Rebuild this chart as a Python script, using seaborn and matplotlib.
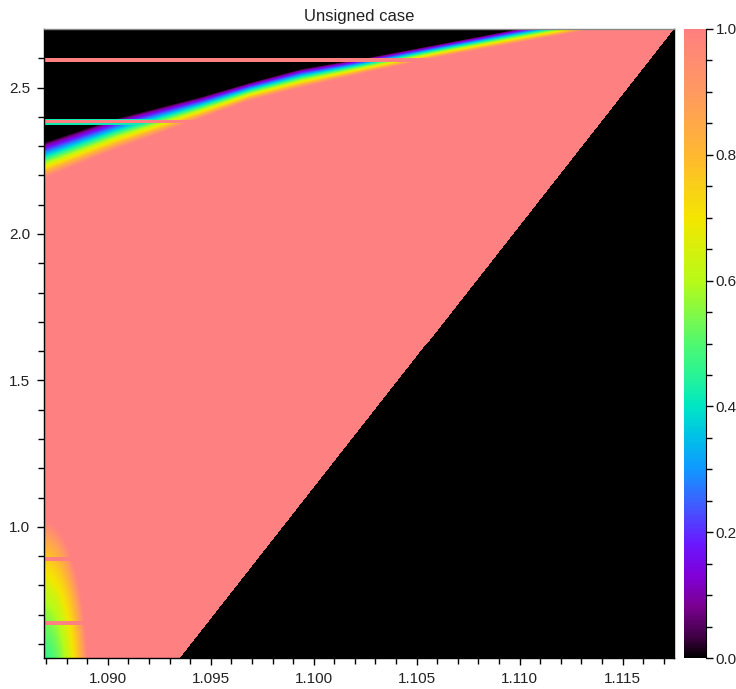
import numpy as np
import matplotlib
matplotlib.use("Agg")
import matplotlib.pyplot as plt
import seaborn as sns
from matplotlib.colors import LinearSegmentedColormap

# extent of the map (data units)
x_lim = [1.0869, 1.1175]
y_lim = [0.552, 2.700]

# upper rainbow band: black edge (value 0) and salmon edge (value 1)
band_x      = [1.0869, 1.0904, 1.0945, 1.0969, 1.0994, 1.1026, 1.1060, 1.1097, 1.1175]
band_top    = [2.313, 2.395, 2.468, 2.517, 2.564, 2.602, 2.647, 2.697, 2.790]
band_bottom = [2.191, 2.290, 2.395, 2.456, 2.500, 2.552, 2.603, 2.650, 2.750]

# lower-left patch: elliptic radius -> value
blob_center = [1.0869, 0.45]
blob_axes = [0.00215, 0.57]
blob_r = [0.0, 0.2, 0.4, 0.6, 0.8, 0.9, 1.0]
blob_v = [0.44, 0.47, 0.54, 0.64, 0.78, 0.88, 1.0]

# black wedge on the right: its edge line
wedge_x = [1.0935, 1.1175]
wedge_y = [0.552, 2.700]

# horizontal stripes
stripe_lo = [0.663, 0.882, 2.379, 2.587]
stripe_hi = [0.677, 0.896, 2.389, 2.601]
stripe_v  = [1.0, 1.0, 1.0, 1.0]
rim_lo = [2.3735, 2.389]
rim_hi = [2.379, 2.3945]
rim_v  = [0.42, 0.42]

# colour table
cmap_pos = [0.0, 0.03, 0.08, 0.13, 0.18, 0.25, 0.3, 0.35, 0.4, 0.45, 0.5, 0.6, 0.7, 0.8, 0.9, 1.0]
cmap_col = ["#000000", "#3c0040", "#7a0090", "#8000d8", "#6a18ff", "#3a64ff", "#1098ff",
            "#00c0e8", "#00e6c4", "#28f494", "#50f870", "#b8fa18", "#f4e600", "#ffb830",
            "#ff9a60", "#ff8080"]

xtick_vals = [1.090, 1.095, 1.100, 1.105, 1.110, 1.115]
ytick_vals = [1.0, 1.5, 2.0, 2.5]
ctick_vals = [0.0, 0.2, 0.4, 0.6, 0.8, 1.0]

# build the field
nx, ny = 630, 630
xs = x_lim[0] + (np.arange(nx) + 0.5) * (x_lim[1] - x_lim[0]) / nx
ys = y_lim[1] - (np.arange(ny) + 0.5) * (y_lim[1] - y_lim[0]) / ny
X, Y = np.meshgrid(xs, ys)

top = np.interp(X, band_x, band_top)
bot = np.interp(X, band_x, band_bottom)
field = np.clip((top - Y) / (top - bot), 0, 1)

r = np.sqrt(((X - blob_center[0]) / blob_axes[0]) ** 2 + ((Y - blob_center[1]) / blob_axes[1]) ** 2)
field = np.minimum(field, np.interp(r, blob_r, blob_v))

for lo, hi, v in zip(stripe_lo, stripe_hi, stripe_v):
    field[(Y >= lo) & (Y < hi)] = v
for lo, hi, v in zip(rim_lo, rim_hi, rim_v):
    m = (Y >= lo) & (Y < hi)
    field[m] = np.maximum(field[m], v)

edge = np.interp(Y, wedge_y, wedge_x)
field[X > edge] = 0.0

cmap = LinearSegmentedColormap.from_list("idl", list(zip(cmap_pos, cmap_col)))

sns.set_style("ticks")
plt.rcParams['font.family'] = ['Liberation Sans', 'DejaVu Sans']

fig = plt.figure(figsize=(7.36, 6.89), dpi=100)
ax = fig.add_axes([44 / 736, 1 - 658 / 689, 630 / 736, 629 / 689])
cax = fig.add_axes([684 / 736, 1 - 658 / 689, 22 / 736, 629 / 689])

sns.heatmap(field, ax=ax, cmap=cmap, vmin=0, vmax=1, cbar_ax=cax,
            xticklabels=False, yticklabels=False, rasterized=True)


def to_cx(v):
    return (np.asarray(v) - x_lim[0]) / (x_lim[1] - x_lim[0]) * nx


def to_cy(v):
    return (y_lim[1] - np.asarray(v)) / (y_lim[1] - y_lim[0]) * ny


ax.set_xticks(to_cx(xtick_vals))
ax.set_xticklabels([f"{v:.3f}" for v in xtick_vals], rotation=0)
ax.set_xticks(to_cx(np.arange(1.087, 1.1176, 0.001)), minor=True)
ax.set_yticks(to_cy(ytick_vals))
ax.set_yticklabels([f"{v:.1f}" for v in ytick_vals], rotation=0)
ax.set_yticks(to_cy(np.arange(0.6, 2.65, 0.1)), minor=True)

ax.tick_params(which="major", length=5, width=1, color="black", labelsize=11,
               labelcolor="#222222", pad=5)
ax.tick_params(which="minor", length=4, width=1, color="black")
for s in ax.spines.values():
    s.set_visible(True)
    s.set_color("black")
    s.set_linewidth(1)
ax.spines["top"].set_color("#888888")

ax.set_title("Unsigned case", fontsize=12, color="#222222", pad=6)

cbar = ax.collections[0].colorbar
cbar.set_ticks(ctick_vals)
cbar.set_ticklabels([f"{v:.1f}" for v in ctick_vals])
cbar.ax.set_yticks(np.arange(0.05, 1.0, 0.05), minor=True)
cbar.outline.set_visible(False)
cax.spines["right"].set_visible(True)
cax.spines["right"].set_color("black")
cax.tick_params(which="major", length=5, width=1, color="black", labelsize=11,
                labelcolor="#222222", pad=2)
cax.tick_params(which="minor", length=4, width=1, color="black")

fig.savefig("out.png", dpi=100)
